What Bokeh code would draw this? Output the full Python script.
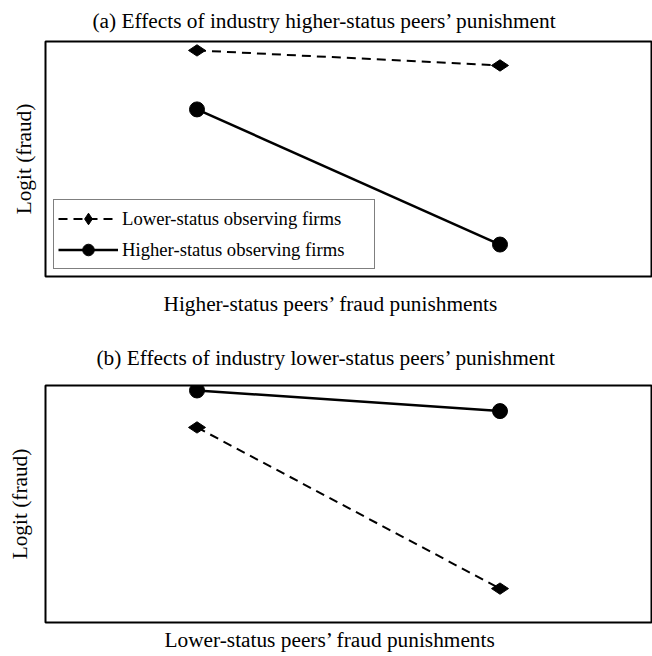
import math
from bokeh.plotting import figure
from bokeh.layouts import column
from bokeh.models import Legend, LegendItem, Range1d, Title
from bokeh.embed import file_html
from bokeh.resources import INLINE

# ---- data (arbitrary logit scale 0..1) ----
x_levels = [0, 1]  # low / high punishment
a_lower_status = [0.962, 0.898]
a_higher_status = [0.711, 0.136]
b_lower_status = [0.823, 0.143]
b_higher_status = [0.979, 0.892]

series_labels = ["Lower-status observing firms", "Higher-status observing firms"]
titles = ["(a) Effects of industry higher-status peers\u2019 punishment",
          "(b) Effects of industry lower-status peers\u2019 punishment"]
xlabels = ["Higher-status peers\u2019 fraud punishments",
           "Lower-status peers\u2019 fraud punishments"]
ylabel = "Logit (fraud)"

FONT = "Liberation Serif"
BIG = "21.33px"
SMALL = "18.67px"


def make_fig(title, xlabel, lower, higher, height, btop, bbottom,
             title_offset, title_standoff, xl_offset, xl_standoff, yl_standoff,
             legend=False):
    p = figure(width=652, height=height, output_backend="svg", toolbar_location=None,
               x_range=Range1d(-0.5, 1.5), y_range=Range1d(0, 1),
               min_border_left=45, min_border_right=1,
               min_border_top=btop, min_border_bottom=bbottom)
    p.title.text = title
    p.title.align = "left"
    p.title.vertical_align = "top"
    p.title.offset = title_offset
    p.title.standoff = title_standoff
    p.title.text_font = FONT
    p.title.text_font_size = BIG
    p.title.text_font_style = "normal"
    p.title.text_color = "black"

    p.add_layout(Title(text=xlabel, align="left", vertical_align="bottom",
                       offset=xl_offset, standoff=xl_standoff,
                       text_font=FONT, text_font_size=BIG, text_font_style="normal",
                       text_color="black"), "below")

    p.grid.visible = False
    for ax in (p.xaxis, p.yaxis):
        ax.ticker = []
        ax.major_tick_line_color = None
        ax.minor_tick_line_color = None
        ax.major_tick_out = 0
        ax.major_tick_in = 0
        ax.minor_tick_out = 0
        ax.major_label_standoff = 0
        ax.axis_line_color = None
        ax.major_label_text_font_size = "0px"
    p.yaxis.axis_label = ylabel
    p.yaxis.axis_label_text_font = FONT
    p.yaxis.axis_label_text_font_size = BIG
    p.yaxis.axis_label_text_font_style = "normal"
    p.yaxis.axis_label_text_color = "black"
    p.yaxis.axis_label_standoff = yl_standoff

    p.outline_line_color = "black"
    p.outline_line_width = 2
    p.outline_line_alpha = 1

    l1 = p.line(x_levels, lower, line_color="black", line_width=2, line_dash="9 6")
    s1 = p.scatter(x_levels, lower, marker="diamond", size=17, angle=math.pi / 2,
                   fill_color="black", line_color="black")
    l2 = p.line(x_levels, higher, line_color="black", line_width=2.5)
    s2 = p.scatter(x_levels, higher, marker="circle", size=15,
                   fill_color="black", line_color="black")

    if legend:
        leg = Legend(items=[LegendItem(label=series_labels[0], renderers=[l1, s1]),
                            LegendItem(label=series_labels[1], renderers=[l2, s2])],
                     location=(8, 7), glyph_width=60, glyph_height=29,
                     label_standoff=4, padding=4, spacing=2, label_width=248,
                     label_text_font=FONT, label_text_font_size=SMALL,
                     label_text_color="black",
                     border_line_color="black", border_line_width=1.5,
                     background_fill_alpha=1, margin=0)
        p.add_layout(leg, "center")
    return p


p1 = make_fig(titles[0], xlabels[0], a_lower_status, a_higher_status, 330, 41, 54,
              47, 14, 118, 26, 10, legend=True)
p2 = make_fig(titles[1], xlabels[1], b_lower_status, b_higher_status, 326, 55, 34,
              51, 28, 119, 7, 14)

layout = column(p1, p2, spacing=0)
open("out.html", "w").write(file_html(layout, INLINE))
